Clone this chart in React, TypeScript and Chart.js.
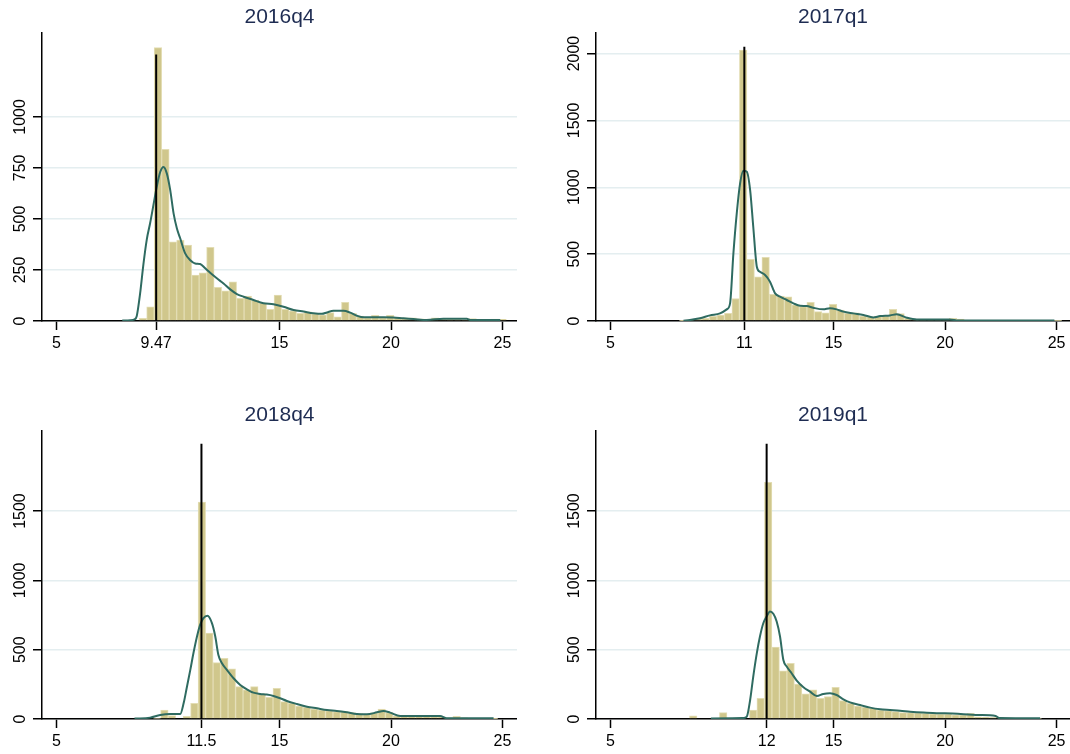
import React, { useEffect, useRef } from "react";
import { Chart, registerables } from "chart.js";

Chart.register(...registerables);

// ---------- data ----------
const titles = ["2016q4", "2017q1", "2018q4", "2019q1"];
const minWage = [9.47, 11, 11.5, 12];
const xTickValues = [
  [5, 9.47, 15, 20, 25],
  [5, 11, 15, 20, 25],
  [5, 11.5, 15, 20, 25],
  [5, 12, 15, 20, 25],
];
const xTickLabels = [
  ["5", "9.47", "15", "20", "25"],
  ["5", "11", "15", "20", "25"],
  ["5", "11.5", "15", "20", "25"],
  ["5", "12", "15", "20", "25"],
];
const yTickValues = [
  [0, 250, 500, 750, 1000],
  [0, 500, 1000, 1500, 2000],
  [0, 500, 1000, 1500],
  [0, 500, 1000, 1500],
];
const yMaxValues = [1410, 2152, 2076, 2076];
const vlineTops = [1306, 2050, 1985, 1985];

// histogram: first bin left edge and bin width
const binStarts = [8.708, 8.092, 8.998, 8.54];
const binWidths = [0.336, 0.336, 0.336, 0.336];

const hist2016q4 = [
  13, 70, 1339, 841, 388, 396, 372, 225, 236, 361, 165, 148, 192, 111, 122, 103,
  87, 57, 127, 57, 50, 37, 45, 35, 30, 41, 20, 91, 38, 24, 17, 28, 17, 28, 17,
  15, 15, 11, 10, 15, 10, 8, 8, 6, 12, 8, 6, 10, 8,
];
const hist2017q1 = [
  3, 6, 12, 20, 35, 45, 57, 168, 2025, 461, 331, 476, 199, 187, 180, 120, 107,
  140, 70, 62, 125, 82, 57, 62, 37, 32, 37, 37, 87, 55, 20, 12, 12, 10, 10, 12,
  20, 15, 5, 4, 4, 3, 3, 3, 3, 2, 2, 2, 2, 2, 2,
];
const hist2018q4 = [
  0, 5, 65, 25, 0, 20, 113, 1565, 619, 407, 438, 361, 233, 210, 233, 181, 157,
  222, 125, 113, 94, 84, 72, 65, 61, 53, 53, 46, 39, 36, 44, 72, 46, 22, 17, 17,
  17, 17, 15, 15, 8, 20, 8, 5, 5, 5, 3,
];
const hist2019q1 = [
  22, 0, 0, 0, 46, 0, 0, 0, 65, 150, 1707, 518, 347, 402, 251, 181, 210, 150,
  161, 229, 132, 113, 94, 84, 77, 65, 61, 53, 46, 46, 45, 40, 38, 36, 36, 30, 30,
  40, 15, 12, 10, 10, 5, 5, 5, 4, 4,
];

// kernel density (scaled to frequency)
const kdeX2016q4 = [
  7.95, 8.3, 8.5, 8.6, 8.75, 8.9, 9.05, 9.2, 9.35, 9.5, 9.65, 9.8, 9.95, 10.1,
  10.25, 10.4, 10.55, 10.77, 11.0, 11.22, 11.44, 11.67, 11.89, 12.19, 12.49,
  12.79, 13.09, 13.39, 13.83, 14.28, 14.73, 15.18, 15.63, 16.08, 16.52, 16.9,
  17.13, 17.42, 17.87, 18.17, 18.47, 18.77, 19.22, 19.66, 20.11, 20.56, 21.0,
  21.6, 22.35, 23.4, 23.55, 24.3, 24.9,
];
const kdeY2016q4 = [
  2, 4, 8, 25, 135, 280, 400, 480, 570, 660, 730, 755, 722, 641, 527, 453, 404,
  331, 298, 282, 279, 258, 236, 209, 184, 155, 132, 119, 103, 87, 82, 70, 54,
  46, 38, 35, 42, 50, 50, 41, 26, 18, 18, 18, 17, 13, 10, 5, 11, 11, 5, 5, 5,
];
const kdeX2017q1 = [
  8.27, 8.56, 9.01, 9.46, 9.91, 10.21, 10.36, 10.51, 10.66, 10.81, 10.96, 11.11,
  11.26, 11.4, 11.56, 11.7, 11.93, 12.15, 12.38, 12.6, 12.9, 13.2, 13.5, 13.8,
  14.09, 14.54, 14.84, 15.14, 15.44, 15.89, 16.34, 16.78, 17.09, 17.53, 17.83,
  18.28, 18.73, 19.5, 20.2, 20.6, 22, 23.5, 24.9,
];
const kdeY2017q1 = [
  2, 7, 20, 42, 57, 87, 132, 506, 805, 1029, 1123, 1116, 979, 705, 406, 368,
  344, 294, 207, 182, 157, 132, 114, 112, 99, 87, 95, 87, 70, 57, 45, 27, 37,
  42, 50, 25, 12, 12, 12, 4, 3, 3, 3,
];
const kdeX2018q4 = [
  8.5, 9.2, 9.65, 10.1, 10.55, 10.7, 10.85, 11.0, 11.14, 11.3, 11.44, 11.59,
  11.77, 11.97, 12.12, 12.26, 12.42, 12.64, 12.94, 13.24, 13.54, 13.83, 14.13,
  14.43, 14.73, 15.03, 15.33, 15.78, 16.23, 16.68, 17.13, 17.57, 18.02, 18.47,
  18.92, 19.37, 19.66, 19.96, 20.41, 21.0, 21.6, 22.2, 22.5, 23.1, 24.6,
];
const kdeY2018q4 = [
  3, 10, 29, 36, 36, 113, 233, 354, 474, 595, 679, 727, 744, 691, 595, 462, 402,
  354, 294, 246, 214, 190, 181, 176, 166, 150, 130, 108, 89, 77, 65, 58, 48, 36,
  34, 48, 58, 46, 22, 22, 22, 22, 5, 5, 5,
];
const kdeX2019q1 = [
  9.5, 10.96, 11.11, 11.26, 11.4, 11.56, 11.7, 11.85, 12.0, 12.15, 12.3, 12.45,
  12.6, 12.75, 12.9, 13.12, 13.35, 13.65, 13.95, 14.25, 14.54, 14.84, 15.14,
  15.44, 15.74, 16.19, 16.64, 17.09, 17.53, 17.98, 18.43, 19.03, 19.63, 19.98,
  21.5, 22.27, 22.42, 24.26,
];
const kdeY2019q1 = [
  4, 7, 17, 137, 306, 475, 595, 691, 739, 775, 759, 703, 595, 426, 378, 330, 277,
  229, 197, 166, 181, 186, 173, 142, 120, 101, 82, 70, 65, 60, 53, 46, 41, 41,
  29, 22, 7, 5,
];

const histValues = [hist2016q4, hist2017q1, hist2018q4, hist2019q1];
const kdeXs = [kdeX2016q4, kdeX2017q1, kdeX2018q4, kdeX2019q1];
const kdeYs = [kdeY2016q4, kdeY2017q1, kdeY2018q4, kdeY2019q1];

// ---------- style / layout ----------
const FONT = "'Liberation Sans', Arial, Helvetica, sans-serif";
const X_MIN = 4.35;
const panels = [
  { left: 0, top: 0, width: 517, height: 356, xMax: 25.65 },
  { left: 554, top: 0, width: 516, height: 356, xMax: 25.6 },
  { left: 0, top: 398, width: 517, height: 356, xMax: 25.65 },
  { left: 554, top: 398, width: 516, height: 356, xMax: 25.6 },
];
const Y_AXIS_W = 42;
const PLOT_BOTTOM = 321;

const rotatedYLabels = {
  id: "rotatedYLabels",
  afterDraw(chart: any) {
    const s = chart.scales.y;
    const ctx = chart.ctx;
    ctx.save();
    ctx.fillStyle = "#000";
    ctx.font = `16px ${FONT}`;
    ctx.textAlign = "center";
    ctx.textBaseline = "middle";
    const x = chart.chartArea.left - 21;
    s.ticks.forEach((t: any) => {
      const y = s.getPixelForValue(t.value);
      ctx.save();
      ctx.translate(x, y);
      ctx.rotate(-Math.PI / 2);
      ctx.fillText(String(t.value), 0, 0);
      ctx.restore();
    });
    ctx.restore();
  },
};

function Panel({ idx }: { idx: number }) {
  const ref = useRef<HTMLCanvasElement>(null);
  const p = panels[idx];
  useEffect(() => {
    const canvas = ref.current!;
    const w = binWidths[idx];
    const start = binStarts[idx];
    const bars = histValues[idx].map((v, i) => ({ x: start + (i + 0.5) * w, y: v }));
    const kde = kdeXs[idx].map((x, i) => ({ x, y: kdeYs[idx][i] }));
    const vline = [
      { x: minWage[idx], y: 0 },
      { x: minWage[idx], y: vlineTops[idx] },
    ];
    const xt = xTickValues[idx];
    const xl = xTickLabels[idx];
    const yt = yTickValues[idx];
    const chart = new Chart(canvas, {
      type: "bar",
      data: {
        datasets: [
          {
            type: "line",
            data: vline,
            borderColor: "#000",
            borderWidth: 2,
            pointRadius: 0,
            order: 1,
          } as any,
          {
            type: "line",
            data: kde,
            borderColor: "#2f6b61",
            borderWidth: 2,
            pointRadius: 0,
            cubicInterpolationMode: "monotone",
            order: 2,
          } as any,
          {
            type: "bar",
            data: bars,
            backgroundColor: "#d0c78c",
            borderColor: "#e3ddb4",
            borderWidth: 1,
            barPercentage: 1,
            categoryPercentage: 1,
            order: 3,
          } as any,
        ],
      },
      options: {
        animation: false,
        responsive: false,
        maintainAspectRatio: false,
        layout: { padding: 0 },
        plugins: {
          legend: { display: false },
          tooltip: { enabled: false },
          title: {
            display: true,
            text: titles[idx],
            fullSize: false,
            color: "#1e2c52",
            font: { family: FONT, size: 21, weight: "normal" },
            padding: { top: 5, bottom: 3 },
          },
        },
        scales: {
          x: {
            type: "linear",
            min: X_MIN,
            max: p.xMax,
            offset: false,
            grid: {
              display: true,
              offset: false,
              drawOnChartArea: false,
              drawTicks: true,
              tickLength: 9,
              tickColor: "#000",
              tickWidth: 1.5,
            },
            border: { display: true, color: "#000", width: 1.5 },
            ticks: {
              color: "#000",
              font: { family: FONT, size: 16 },
              padding: 4,
              maxRotation: 0,
              autoSkip: false,
              callback: (_v: any, i: number) => xl[i],
            },
            afterBuildTicks: (s: any) => {
              s.ticks = xt.map((v) => ({ value: v }));
            },
            afterFit: (s: any) => {
              s.height = p.height - PLOT_BOTTOM;
            },
          },
          y: {
            type: "linear",
            min: 0,
            max: yMaxValues[idx],
            grid: {
              color: "#e4eef0",
              lineWidth: 1.5,
              drawTicks: true,
              tickLength: 9,
              tickColor: "#000",
              tickWidth: 1.5,
            },
            border: { display: true, color: "#000", width: 1.5 },
            ticks: { display: false },
            afterBuildTicks: (s: any) => {
              s.ticks = yt.map((v) => ({ value: v }));
            },
            afterFit: (s: any) => {
              s.width = Y_AXIS_W;
            },
          },
        },
      } as any,
      plugins: [rotatedYLabels],
    });
    return () => chart.destroy();
  }, [idx]);
  return (
    <canvas
      ref={ref}
      width={p.width}
      height={p.height}
      style={{
        position: "absolute",
        left: p.left,
        top: p.top,
        width: p.width,
        height: p.height,
        display: "block",
      }}
    />
  );
}

export default function App() {
  return (
    <div
      style={{
        position: "absolute",
        left: 0,
        top: 0,
        width: 1070,
        height: 754,
        overflow: "hidden",
        background: "#fff",
      }}
    >
      {titles.map((_, i) => (
        <Panel key={i} idx={i} />
      ))}
    </div>
  );
}
